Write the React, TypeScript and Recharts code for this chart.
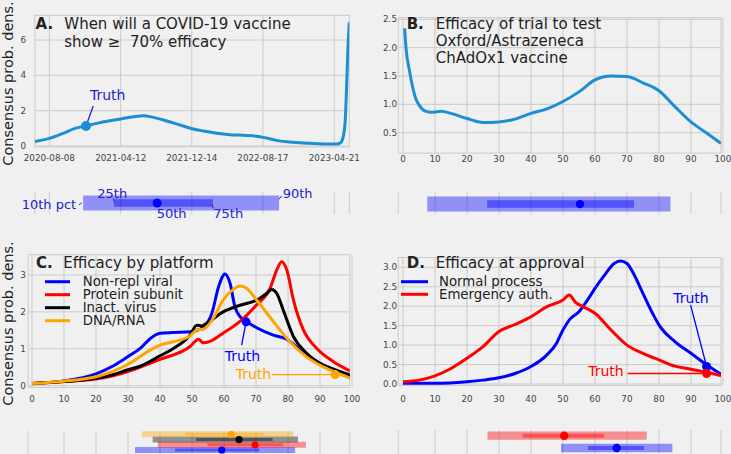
import React from "react";
import {
  LineChart,
  Line,
  XAxis,
  YAxis,
  CartesianGrid,
  ReferenceDot,
  ReferenceLine,
  ComposedChart,
  Scatter,
} from "recharts";

type Pt = [number, number];

const FONT = "'DejaVu Sans', 'Noto Sans', sans-serif";
const BG = "#f0f0f0";
const GRID = "#cbcbcb";
const ANNOT_BLUE = "#2222cc";
const LINE_BLUE = "#1b8fd5";
const tickStyle = { fontSize: 8.8, fill: "#444", fontFamily: FONT };

// A. timing of a >=70% efficacy vaccine (x = days since first tick)
const dateTickLabels = ["2020-08-08", "2021-04-12", "2021-12-14", "2022-08-17", "2023-04-21"];
const dayOf = (s: string) => Math.round((Date.parse(s) - Date.parse(dateTickLabels[0])) / 864e5);
const dateTicks = dateTickLabels.map(dayOf);
const timingDensity: Pt[] = [
  [-50, 0.25], [0, 0.43], [48, 0.72], [89, 1.0], [127, 1.13], [164, 1.28], [210, 1.43],
  [247, 1.53], [291, 1.66], [325, 1.72], [360, 1.62], [406, 1.42], [452, 1.19], [494, 0.98],
  [533, 0.85], [580, 0.72], [625, 0.64], [683, 0.6], [718, 0.55], [740, 0.49], [786, 0.32],
  [844, 0.21], [902, 0.15], [960, 0.11], [994, 0.11], [1008, 0.19], [1017, 0.53],
  [1024, 1.47], [1029, 3.5], [1033, 5.4], [1038, 7.0],
];
const timingTruth: Pt = [127, 1.13];
const timingPct = [117, 224, 373, 566, 795];

// B. efficacy of the Oxford/AstraZeneca trial
const oxfordDensity: Pt[] = [
  [0.5, 2.34], [1, 1.96], [2, 1.6], [3, 1.31], [4, 1.1], [5, 0.99], [7, 0.88], [9, 0.86],
  [12, 0.88], [15, 0.84], [20, 0.75], [25, 0.68], [30, 0.69], [35, 0.74], [40, 0.84],
  [45, 0.92], [50, 1.05], [55, 1.22], [60, 1.43], [65, 1.5], [70, 1.49], [75, 1.38],
  [80, 1.24], [85, 0.96], [90, 0.69], [95, 0.49], [99.4, 0.31],
];
const oxfordPct = [7.6, 26.3, 55.3, 72.2, 83.6];

// C. efficacy by platform
const platformNames = ["Non-repl viral", "Protein subunit", "Inact. virus", "DNA/RNA"];
const platformColors = ["#0000ff", "#ff0000", "#000000", "#ffa500"];
const nonReplViral: Pt[] = [
  [0, 0.06], [10, 0.13], [20, 0.32], [25, 0.52], [30, 0.79], [33.8, 1.01], [37, 1.28],
  [40, 1.42], [44, 1.44], [49.5, 1.46], [53.5, 1.58], [56.2, 1.96], [58.3, 2.68],
  [60.3, 3.03], [61.9, 2.77], [63.4, 2.14], [65, 1.87], [67, 1.74], [70.2, 1.57],
  [75.4, 1.37], [79.6, 1.26], [82, 1.1], [86, 0.82], [90, 0.6], [95, 0.42], [99.4, 0.25],
];
const proteinSubunit: Pt[] = [
  [0, 0.05], [10, 0.11], [20, 0.18], [25, 0.26], [30, 0.38], [33.8, 0.5], [40, 0.71],
  [49.4, 1.06], [52, 1.26], [53.5, 1.16], [55.6, 1.2], [59.7, 1.42], [65, 1.74],
  [70.2, 2.19], [74.4, 2.64], [76.5, 3.14], [78, 3.36], [79.6, 3.14], [81.7, 2.32],
  [84.8, 1.51], [89, 1.01], [94.2, 0.65], [99.4, 0.4],
];
const inactVirus: Pt[] = [
  [0, 0.06], [10, 0.11], [20, 0.2], [25, 0.29], [30, 0.43], [33.8, 0.53], [40, 0.81],
  [44.2, 1.01], [49.4, 1.37], [51.5, 1.64], [53, 1.62], [54.6, 1.69], [59.7, 2.0],
  [65, 2.18], [70.2, 2.32], [73.3, 2.5], [74.9, 2.61], [76.5, 2.5], [78.5, 2.05],
  [81.7, 1.33], [85.8, 0.88], [91, 0.56], [95, 0.42], [99.4, 0.29],
];
const dnaRna: Pt[] = [
  [0, 0.06], [10, 0.12], [20, 0.24], [25, 0.38], [30, 0.58], [33.8, 0.79], [37, 0.97],
  [40, 1.1], [44.2, 1.19], [49.4, 1.35], [51.5, 1.51], [53.5, 1.53], [56.6, 1.82],
  [59.7, 2.32], [62.9, 2.61], [65, 2.7], [67, 2.64], [70.2, 2.32], [75.4, 1.74],
  [80.6, 1.19], [85.8, 0.78], [91, 0.51], [95, 0.36], [99.4, 0.2],
];
const platformCurves = [nonReplViral, proteinSubunit, inactVirus, dnaRna];
const platformPct = [
  [32.2, 44.7, 59.3, 71, 82.2],
  [39.3, 54.8, 69.7, 78.5, 85.6],
  [37.7, 51.3, 64.7, 75.2, 83.1],
  [34.3, 47.8, 62.2, 72.3, 81.7],
];
const viralTruth: Pt = [66.9, 1.73];
const rnaTruth: Pt = [94.7, 0.3];

// D. efficacy at approval
const approvalNames = ["Normal process", "Emergency auth."];
const approvalColors = ["#0000ff", "#ff0000"];
const normalProcess: Pt[] = [
  [0, 0.02], [10, 0.02], [20, 0.06], [25, 0.1], [30, 0.16], [35, 0.27], [40, 0.45],
  [45, 0.75], [48, 1.05], [50, 1.39], [52, 1.65], [55, 1.86], [58, 2.2], [60, 2.46],
  [63, 2.8], [66, 3.1], [68, 3.16], [70, 3.1], [72, 2.85], [75, 2.33], [78, 1.82],
  [80, 1.52], [85, 1.09], [90, 0.79], [95, 0.49], [99.4, 0.25],
];
const emergencyAuth: Pt[] = [
  [0, 0.06], [5, 0.1], [10, 0.21], [15, 0.4], [20, 0.66], [25, 0.96], [30, 1.35],
  [35, 1.53], [40, 1.73], [45, 1.99], [50, 2.16], [52, 2.29], [54, 2.09], [56, 2.0],
  [60, 1.82], [65, 1.39], [70, 1.0], [75, 0.79], [80, 0.62], [85, 0.46], [90, 0.38],
  [95, 0.3], [99.4, 0.21],
];
const approvalCurves = [normalProcess, emergencyAuth];
const approvalPct = [
  [49.4, 57.9, 66.8, 75.3, 84.2],
  [26.4, 37.4, 50.4, 62.8, 76.2],
];
const normalTruth: Pt = [94.9, 0.45];
const emergencyTruth: Pt = [94.9, 0.27];

const pctTicks = [0, 10, 20, 30, 40, 50, 60, 70, 80, 90, 100];
const stripTicks = [10, 20, 30, 40, 50, 60, 70, 80, 90];

const toRows = (pts: Pt[]) => pts.map(([x, y]) => ({ x, y }));

type StripRow = { color: string; pct: number[]; row: number };

function Strip(props: {
  left: number; top: number; width: number; height: number;
  margin: { top: number; right: number; bottom: number; left: number };
  xDomain: [number, number]; xTicks: number[]; yDomain: [number, number];
  rows: StripRow[]; light: number; dark: number; r: number;
}) {
  const { rows, light, dark, r } = props;
  return (
    <div style={{ position: "absolute", left: props.left, top: props.top }}>
      <ComposedChart width={props.width} height={props.height} margin={props.margin}>
        <CartesianGrid stroke={GRID} horizontal={false} />
        <XAxis type="number" dataKey="x" domain={props.xDomain} ticks={props.xTicks} hide allowDataOverflow />
        <YAxis type="number" dataKey="y" domain={props.yDomain} hide allowDataOverflow />
        {rows.map((s, i) => (
          <React.Fragment key={i}>
            <Line
              data={[{ x: s.pct[0], y: s.row }, { x: s.pct[4], y: s.row }]}
              dataKey="y" stroke={s.color} strokeOpacity={0.4} strokeWidth={light}
              dot={false} isAnimationActive={false} type="linear"
            />
            <Line
              data={[{ x: s.pct[1], y: s.row }, { x: s.pct[3], y: s.row }]}
              dataKey="y" stroke={s.color} strokeOpacity={0.42} strokeWidth={dark}
              dot={false} isAnimationActive={false} type="linear"
            />
            <Scatter
              data={[{ x: s.pct[2], y: s.row }]}
              isAnimationActive={false}
              shape={(p: any) => <circle cx={p.cx} cy={p.cy} r={r} fill={s.color} />}
            />
          </React.Fragment>
        ))}
      </ComposedChart>
    </div>
  );
}

function Txt(p: { x: number; y: number; size: number; color?: string; bold?: boolean; children: React.ReactNode; anchor?: string; rotate?: boolean }) {
  return (
    <text
      x={p.x} y={p.y} fontSize={p.size} fill={p.color || "#222"} fontWeight={p.bold ? "bold" : "normal"}
      dominantBaseline="central" textAnchor={p.anchor || "start"} style={{ whiteSpace: "pre" }}
      transform={p.rotate ? `rotate(-90 ${p.x} ${p.y})` : undefined}
    >
      {p.children}
    </text>
  );
}

export default function App() {
  return (
    <div style={{ position: "absolute", left: 0, top: 0, width: 731, height: 454, overflow: "hidden", background: BG, fontFamily: FONT }}>
      {/* Panel A */}
      <div style={{ position: "absolute", left: 0, top: 0 }}>
        <LineChart width={365} height={170} margin={{ top: 15.3, right: 15.7, bottom: 0, left: 0 }}>
          <CartesianGrid stroke={GRID} />
          <XAxis type="number" dataKey="x" domain={[-50, 1038]} ticks={dateTicks} interval={0}
            tickFormatter={(v) => dateTickLabels[dateTicks.indexOf(v)]} axisLine={false} tickLine={false}
            tick={tickStyle} height={23.1} tickSize={6} tickMargin={2} allowDataOverflow />
          <YAxis type="number" domain={[-0.05, 7.4]} ticks={[0, 2, 4, 6]} interval={0} axisLine={false}
            tickLine={false} tick={tickStyle} width={34.85} tickSize={6} tickMargin={2.8} allowDataOverflow />
          <Line data={toRows(timingDensity)} dataKey="y" type="monotone" stroke={LINE_BLUE} strokeWidth={3}
            dot={false} isAnimationActive={false} />
          <ReferenceLine segment={[{ x: 152, y: 2.26 }, { x: timingTruth[0], y: timingTruth[1] }]} stroke={ANNOT_BLUE} strokeWidth={1.3} />
          <ReferenceDot x={timingTruth[0]} y={timingTruth[1]} r={5} fill={LINE_BLUE} stroke="none" />
        </LineChart>
      </div>
      <Strip left={0} top={185} width={365} height={35} margin={{ top: 7, right: 15.7, bottom: 6, left: 34.85 }}
        xDomain={[-50, 1038]} xTicks={dateTicks} yDomain={[0, 1]}
        rows={[{ color: "#0000ff", pct: timingPct, row: 0.5 }]} light={15} dark={7.5} r={4.5} />

      {/* Panel B */}
      <div style={{ position: "absolute", left: 365, top: 0 }}>
        <LineChart width={366} height={175} margin={{ top: 17.6, right: 10, bottom: 0, left: 0 }}>
          <CartesianGrid stroke={GRID} />
          <XAxis type="number" dataKey="x" domain={[-1.5, 99.4]} ticks={pctTicks} interval={0} axisLine={false}
            tickLine={false} tick={tickStyle} height={21.9} tickSize={1} tickMargin={2} allowDataOverflow />
          <YAxis type="number" domain={[0.14, 2.53]} ticks={[0.5, 1, 1.5, 2, 2.5]} interval={0}
            tickFormatter={(v) => v.toFixed(1)} axisLine={false} tickLine={false} tick={tickStyle}
            width={33.2} tickSize={0} tickMargin={1.2} allowDataOverflow />
          <Line data={toRows(oxfordDensity)} dataKey="y" type="monotone" stroke={LINE_BLUE} strokeWidth={3}
            dot={false} isAnimationActive={false} />
        </LineChart>
      </div>
      <Strip left={365} top={185} width={366} height={35} margin={{ top: 7, right: 10, bottom: 6, left: 33.2 }}
        xDomain={[-1.5, 99.4]} xTicks={stripTicks} yDomain={[0, 1]}
        rows={[{ color: "#0000ff", pct: oxfordPct, row: 0.45 }]} light={15} dark={7.5} r={4.2} />

      {/* Panel C */}
      <div style={{ position: "absolute", left: 0, top: 230 }}>
        <LineChart width={365} height={180} margin={{ top: 24.7, right: 15.2, bottom: 0, left: 0 }}>
          <CartesianGrid stroke={GRID} />
          <XAxis type="number" dataKey="x" domain={[-1.2, 99.3]} ticks={pctTicks} interval={0} axisLine={false}
            tickLine={false} tick={tickStyle} height={22.5} tickSize={6} tickMargin={2} allowDataOverflow />
          <YAxis type="number" domain={[-0.05, 3.55]} ticks={[0, 1, 2, 3]} interval={0} axisLine={false}
            tickLine={false} tick={tickStyle} width={28.16} tickSize={0} tickMargin={2.2} allowDataOverflow />
          {platformCurves.map((c, i) => (
            <Line key={platformNames[i]} data={toRows(c)} dataKey="y" type="monotone" stroke={platformColors[i]}
              strokeWidth={3} dot={false} isAnimationActive={false} />
          ))}
          <ReferenceLine segment={[{ x: 65.5, y: 1.1 }, { x: viralTruth[0], y: viralTruth[1] }]} stroke={platformColors[0]} strokeWidth={1.3} />
          <ReferenceDot x={viralTruth[0]} y={viralTruth[1]} r={4.5} fill={platformColors[0]} stroke="none" />
          <ReferenceLine segment={[{ x: 74.9, y: rnaTruth[1] }, { x: rnaTruth[0], y: rnaTruth[1] }]} stroke={platformColors[3]} strokeWidth={1.3} />
          <ReferenceDot x={rnaTruth[0]} y={rnaTruth[1]} r={4.5} fill={platformColors[3]} stroke="none" />
        </LineChart>
      </div>
      <Strip left={0} top={425} width={365} height={35} margin={{ top: 6, right: 15.2, bottom: 2, left: 28.16 }}
        xDomain={[-1.2, 99.3]} xTicks={stripTicks} yDomain={[-1.53, 3.63]}
        rows={platformPct.map((p, i) => ({ color: platformColors[i], pct: p, row: i }))} light={6} dark={3} r={3.6} />

      {/* Panel D */}
      <div style={{ position: "absolute", left: 365, top: 230 }}>
        <LineChart width={366} height={180} margin={{ top: 27.6, right: 10, bottom: 0, left: 0 }}>
          <CartesianGrid stroke={GRID} />
          <XAxis type="number" dataKey="x" domain={[-1.5, 99.4]} ticks={pctTicks} interval={0} axisLine={false}
            tickLine={false} tick={tickStyle} height={24.44} tickSize={6} tickMargin={3.7} allowDataOverflow />
          <YAxis type="number" domain={[-0.04, 3.25]} ticks={[0, 0.5, 1, 1.5, 2, 2.5, 3]} interval={0}
            tickFormatter={(v) => v.toFixed(1)} axisLine={false} tickLine={false} tick={tickStyle}
            width={33.2} tickSize={0} tickMargin={1.2} allowDataOverflow />
          {approvalCurves.map((c, i) => (
            <Line key={approvalNames[i]} data={toRows(c)} dataKey="y" type="monotone" stroke={approvalColors[i]}
              strokeWidth={3} dot={false} isAnimationActive={false} />
          ))}
          <ReferenceLine segment={[{ x: 89.9, y: 2.03 }, { x: normalTruth[0], y: normalTruth[1] }]} stroke={approvalColors[0]} strokeWidth={1.3} />
          <ReferenceDot x={normalTruth[0]} y={normalTruth[1]} r={4.5} fill={approvalColors[0]} stroke="none" />
          <ReferenceLine segment={[{ x: 70.2, y: emergencyTruth[1] }, { x: emergencyTruth[0], y: emergencyTruth[1] }]} stroke={approvalColors[1]} strokeWidth={1.3} />
          <ReferenceDot x={emergencyTruth[0]} y={emergencyTruth[1]} r={4.5} fill={approvalColors[1]} stroke="none" />
        </LineChart>
      </div>
      <Strip left={365} top={425} width={366} height={35} margin={{ top: 5, right: 10, bottom: 2, left: 33.2 }}
        xDomain={[-1.5, 99.4]} xTicks={stripTicks} yDomain={[-0.813, 1.463]}
        rows={approvalPct.map((p, i) => ({ color: approvalColors[i], pct: p, row: i }))} light={8.3} dark={4} r={4.2} />

      {/* text overlay */}
      <svg width={731} height={454} style={{ position: "absolute", left: 0, top: 0, pointerEvents: "none", fontFamily: FONT }}>
        <Txt x={8} y={83.5} size={14.5} anchor="middle" rotate>Consensus prob. dens.</Txt>
        <Txt x={8} y={323.5} size={14.5} anchor="middle" rotate>Consensus prob. dens.</Txt>

        <Txt x={35.5} y={24} size={15} bold>A.</Txt>
        <Txt x={64.3} y={24} size={15}>When will a COVID-19 vaccine</Txt>
        <Txt x={64.3} y={41.7} size={15}>{"show \u2265  70% efficacy"}</Txt>
        <Txt x={90} y={95} size={14} color={ANNOT_BLUE}>Truth</Txt>

        <Txt x={406.7} y={24} size={15} bold>B.</Txt>
        <Txt x={435.7} y={24} size={15}>Efficacy of trial to test</Txt>
        <Txt x={435.7} y={41.2} size={15}>Oxford/Astrazeneca</Txt>
        <Txt x={435.7} y={58.4} size={15}>ChAdOx1 vaccine</Txt>

        <Txt x={21.7} y={204.3} size={13} color={ANNOT_BLUE}>10th pct</Txt>
        <Txt x={97.3} y={193.3} size={13} color={ANNOT_BLUE}>25th</Txt>
        <Txt x={156.7} y={213.3} size={13} color={ANNOT_BLUE}>50th</Txt>
        <Txt x={213.3} y={213.3} size={13} color={ANNOT_BLUE}>75th</Txt>
        <Txt x={282.7} y={193.3} size={13} color={ANNOT_BLUE}>90th</Txt>
        <g stroke={ANNOT_BLUE} strokeWidth={1}>
          <line x1={79} y1={205} x2={81.7} y2={202.7} />
          <line x1={113.3} y1={198.3} x2={114.3} y2={202.3} />
          <line x1={212.3} y1={204.5} x2={213.3} y2={208.3} />
          <line x1={279} y1={199.3} x2={281.7} y2={195.7} />
        </g>

        <Txt x={36} y={263.3} size={15} bold>C.</Txt>
        <Txt x={63.3} y={263.3} size={15}>Efficacy by platform</Txt>
        {platformNames.map((n, i) => (
          <g key={n}>
            <line x1={45} x2={70} y1={281.7 + i * 13} y2={281.7 + i * 13} stroke={platformColors[i]} strokeWidth={3} />
            <Txt x={82.7} y={281.7 + i * 13} size={13.3}>{n}</Txt>
          </g>
        ))}
        <Txt x={242.5} y={356} size={14} color={platformColors[0]} anchor="middle">Truth</Txt>
        <Txt x={253.5} y={374} size={14} color={platformColors[3]} anchor="middle">Truth</Txt>

        <Txt x={406.7} y={263.3} size={15} bold>D.</Txt>
        <Txt x={435.7} y={263.3} size={15}>Efficacy at approval</Txt>
        {approvalNames.map((n, i) => (
          <g key={n}>
            <line x1={401} x2={428} y1={281.7 + i * 12.6} y2={281.7 + i * 12.6} stroke={approvalColors[i]} strokeWidth={3} />
            <Txt x={439} y={281.7 + i * 12.6} size={13.3}>{n}</Txt>
          </g>
        ))}
        <Txt x={691} y={298} size={14} color={approvalColors[0]} anchor="middle">Truth</Txt>
        <Txt x={606} y={371} size={14} color={approvalColors[1]} anchor="middle">Truth</Txt>
      </svg>
    </div>
  );
}
